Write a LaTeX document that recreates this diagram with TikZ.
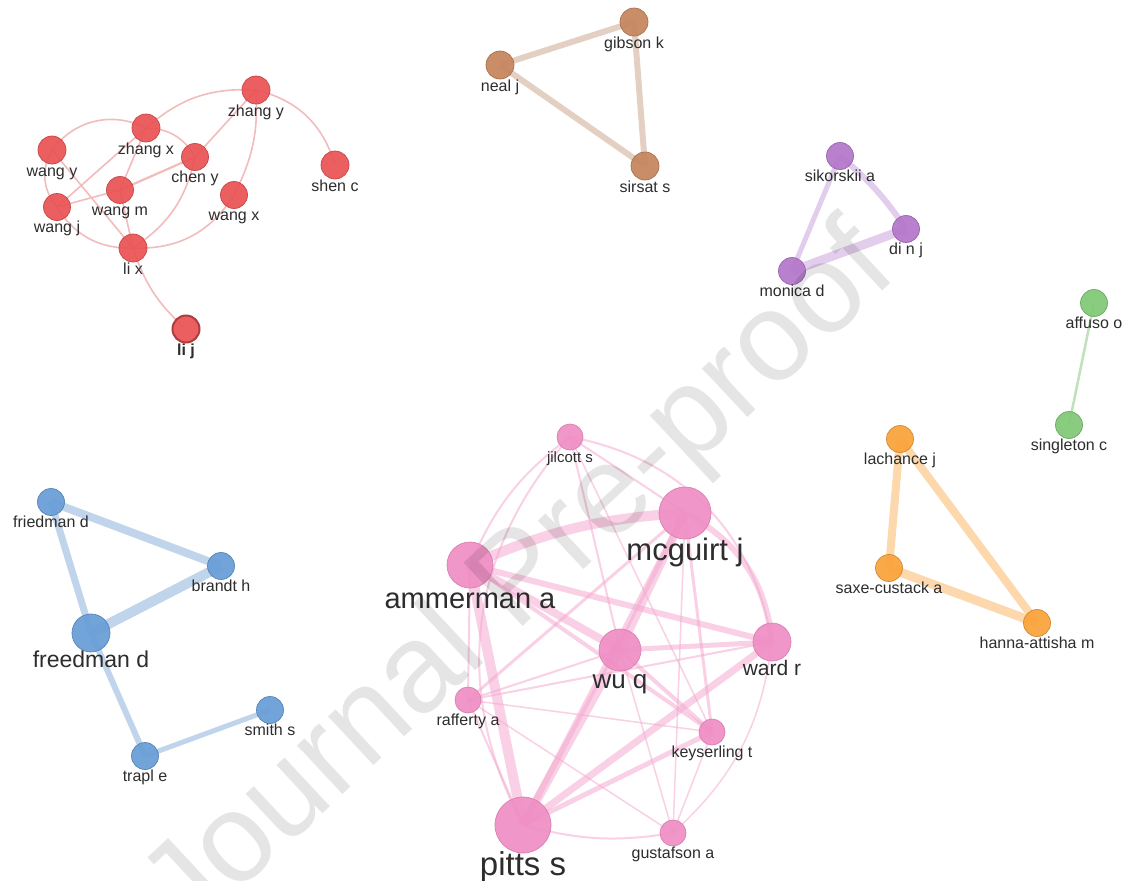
\documentclass[tikz,border=0pt]{standalone}
\usepackage{fontspec}
\setmainfont{Liberation Sans}
\pgfdeclarelayer{bg}
\pgfdeclarelayer{top}
\pgfsetlayers{bg,main,top}
\definecolor{rednode}{RGB}{234,82,84}
\definecolor{rededge}{RGB}{242,188,188}
\definecolor{bluenode}{RGB}{102,157,215}
\definecolor{blueedge}{RGB}{192,213,235}
\definecolor{brownnode}{RGB}{197,133,92}
\definecolor{brownedge}{RGB}{228,208,194}
\definecolor{purplenode}{RGB}{180,118,202}
\definecolor{purpleedge}{RGB}{226,206,236}
\definecolor{greennode}{RGB}{128,200,118}
\definecolor{greenedge}{RGB}{192,226,186}
\definecolor{orangenode}{RGB}{250,162,58}
\definecolor{orangeedge}{RGB}{253,216,172}
\definecolor{pinknode}{RGB}{240,142,196}
\definecolor{pinkedge}{RGB}{245,170,208}
\definecolor{labtext}{RGB}{45,45,45}
\tikzset{
  v/.style={circle,inner sep=0pt,minimum size=#1,line width=0.7pt,fill opacity=0.92},
  rn/.style={fill=rednode,draw=rednode!85!black},
  bn/.style={fill=bluenode,draw=bluenode!85!black},
  brn/.style={fill=brownnode,draw=brownnode!85!black},
  pn/.style={fill=purplenode,draw=purplenode!85!black},
  gn/.style={fill=greennode,draw=greennode!85!black},
  on/.style={fill=orangenode,draw=orangenode!85!black},
  kn/.style={fill=pinknode,draw=pinknode!90!black},
  sl/.style={font=\fontsize{16}{16}\selectfont,text=labtext,inner sep=0pt,text height=11.5pt,text depth=3.4pt},
  bl/.style={font=\fontsize{#1}{#1}\selectfont,text=labtext,inner sep=0pt},
  re/.style={draw=rededge,line width=1.6pt},
  be/.style={draw=blueedge,line width=#1},
  bre/.style={draw=brownedge,line width=#1},
  pe/.style={draw=purpleedge,line width=#1},
  ge/.style={draw=greenedge,line width=#1},
  oe/.style={draw=orangeedge,line width=#1},
  ke/.style={draw=pinkedge,line width=#1,draw opacity=0.55},
}
\begin{document}
\begin{tikzpicture}[x=1pt,y=-1pt]
\useasboundingbox (0,0) rectangle (1128,881);

% ---------------- red cluster
\node[v=28,rn,label={[sl]below:zhang y}] (zy) at (256,90) {};
\node[v=28,rn,label={[sl]below:zhang x}] (zx) at (146,128) {};
\node[v=28,rn,label={[sl]below:wang y}] (wy) at (52,150) {};
\node[v=27,rn,label={[sl]below:chen y}] (cy) at (195,157) {};
\node[v=28,rn,label={[sl]below:shen c}] (sc) at (335,165) {};
\node[v=27,rn,label={[sl]below:wang m}] (wm) at (120,190) {};
\node[v=27,rn,label={[sl]below:wang x}] (wx) at (234,195) {};
\node[v=27,rn,label={[sl]below:wang j}] (wj) at (57,207) {};
\node[v=28,rn,label={[sl]below:li x}] (lx) at (133,248) {};
\node[v=27,rn,line width=2pt,draw=rednode!75!black,label={[sl,font=\fontsize{16}{16}\selectfont\bfseries]below:li j}] (lj) at (186,329) {};

% ---------------- brown cluster
\node[v=28,brn,label={[sl]below:gibson k}] (gk) at (634,22) {};
\node[v=28,brn,label={[sl]below:neal j}] (nj) at (500,65) {};
\node[v=28,brn,label={[sl]below:sirsat s}] (ss) at (645,166) {};

% ---------------- purple cluster
\node[v=27,pn,label={[sl]below:sikorskii a}] (sk) at (840,156) {};
\node[v=27,pn,label={[sl]below:di n j}] (dj) at (906,229) {};
\node[v=27,pn,label={[sl]below:monica d}] (md) at (792,271) {};

% ---------------- green cluster
\node[v=27,gn,label={[sl]below:affuso o}] (ao) at (1094,303) {};
\node[v=27,gn,label={[sl]below:singleton c}] (sg) at (1069,425) {};

% ---------------- orange cluster
\node[v=27,on,label={[sl]below:lachance j}] (lc) at (900,439) {};
\node[v=27,on,label={[sl]below:saxe-custack a}] (sx) at (889,568) {};
\node[v=27,on,label={[sl]below:hanna-attisha m}] (ha) at (1037,623) {};

% ---------------- blue cluster
\node[v=27,bn,label={[sl]below:friedman d}] (fd) at (51,502) {};
\node[v=27,bn,label={[sl]below:brandt h}] (bh) at (221,566) {};
\node[v=38,bn,label={[bl=23,text height=15pt,text depth=4pt]below:freedman d}] (fr) at (91,633) {};
\node[v=27,bn,label={[sl]below:smith s}] (sm) at (270,710) {};
\node[v=27,bn,label={[sl]below:trapl e}] (te) at (145,756) {};

% ---------------- pink cluster
\node[v=26,kn,label={[sl,font=\fontsize{15}{15}\selectfont]below:jilcott s}] (js) at (570,437) {};
\node[v=52,kn,label={[bl=31,text height=21pt,text depth=6pt]below:mcguirt j}] (mj) at (685,513) {};
\node[v=46,kn,label={[bl=29,text height=20pt,text depth=6pt]below:ammerman a}] (aa) at (470,565) {};
\node[v=42,kn,label={[bl=26,text height=17pt,text depth=5pt]below:wu q}] (wq) at (620,650) {};
\node[v=38,kn,label={[bl=21,text height=14pt,text depth=4pt]below:ward r}] (wr) at (772,642) {};
\node[v=26,kn,label={[sl]below:rafferty a}] (ra) at (468,700) {};
\node[v=26,kn,label={[sl]below:keyserling t}] (kt) at (712,732) {};
\node[v=56,kn,label={[bl=33,text height=22pt,text depth=7pt]below:pitts s}] (ps) at (523,825) {};
\node[v=26,kn,label={[sl]below:gustafson a}] (ga) at (673,833) {};

\begin{pgfonlayer}{bg}
\fill[white] (0,0) rectangle (1128,881);
% red edges
\draw[re] (zy.center) to[bend right=22] (zx.center);
\draw[re] (zy.center) to[bend left=30] (sc.center);
\draw[re] (zy.center) -- (cy.center);
\draw[re] (zy.center) to[bend left=15] (wx.center);
\draw[re] (zx.center) to[bend right=40] (wy.center);
\draw[re] (wy.center) to[bend right=35] (wj.center);
\draw[re] (wy.center) -- (lx.center);
\draw[re] (zx.center) -- (wj.center);
\draw[re] (zx.center) -- (wm.center);
\draw[re] (zx.center) to[bend left=30] (cy.center);
\draw[re,line width=2.2pt] (cy.center) -- (wm.center);
\draw[re] (cy.center) to[bend left=22] (lx.center);
\draw[re] (wm.center) -- (lx.center);
\draw[re] (wj.center) -- (wm.center);
\draw[re] (wj.center) to[bend right=30] (lx.center);
\draw[re] (wx.center) to[bend left=30] (lx.center);
\draw[re] (lx.center) to[bend right=15] (lj.center);
% brown edges
\draw[bre=6pt] (nj.center) -- (gk.center);
\draw[bre=6pt] (gk.center) -- (ss.center);
\draw[bre=6pt] (nj.center) -- (ss.center);
% purple edges
\draw[pe=6pt] (sk.center) to[bend left=8] (dj.center);
\draw[pe=5pt] (sk.center) -- (md.center);
\draw[pe=9pt] (md.center) -- (dj.center);
% green edge
\draw[ge=2.5pt] (ao.center) -- (sg.center);
% orange edges
\draw[oe=8pt] (lc.center) -- (sx.center);
\draw[oe=8pt] (lc.center) -- (ha.center);
\draw[oe=9pt] (sx.center) -- (ha.center);
% blue edges
\draw[be=8pt] (fd.center) -- (bh.center);
\draw[be=7pt] (fd.center) -- (fr.center);
\draw[be=10pt] (bh.center) -- (fr.center);
\draw[be=6pt] (fr.center) -- (te.center);
\draw[be=5pt] (te.center) -- (sm.center);
% pink edges
\draw[ke=10pt] (aa.center) to[bend left=10] (mj.center);
\draw[ke=10pt] (aa.center) -- (ps.center);
\draw[ke=8pt] (mj.center) -- (wq.center);
\draw[ke=6pt] (mj.center) -- (ps.center);
\draw[ke=9pt] (wq.center) -- (ps.center);
\draw[ke=8pt] (aa.center) -- (wq.center);
\draw[ke=6pt] (aa.center) -- (wr.center);
\draw[ke=4pt] (aa.center) -- (kt.center);
\draw[ke=6pt] (mj.center) to[bend left=28] (wr.center);
\draw[ke=5pt] (wq.center) -- (wr.center);
\draw[ke=7pt] (ps.center) -- (wr.center);
\draw[ke=5pt] (ps.center) -- (kt.center);
\draw[ke=3pt] (mj.center) -- (kt.center);
\draw[ke=4pt] (wq.center) -- (kt.center);
\draw[ke=2pt] (js.center) -- (mj.center);
\draw[ke=2pt] (js.center) -- (wq.center);
\draw[ke=1.5pt] (js.center) -- (kt.center);
\draw[ke=2pt] (js.center) to[bend right=15] (aa.center);
\draw[ke=2pt] (js.center) to[bend left=35] (wr.center);
\draw[ke=2pt] (js.center) to[bend right=35] (ps.center);
\draw[ke=3pt] (ra.center) -- (mj.center);
\draw[ke=2pt] (ra.center) -- (wr.center);
\draw[ke=1.5pt] (ra.center) -- (kt.center);
\draw[ke=2pt] (ra.center) -- (ps.center);
\draw[ke=1.5pt] (ra.center) -- (ga.center);
\draw[ke=2pt] (ra.center) -- (wq.center);
\draw[ke=2pt] (ra.center) -- (aa.center);
\draw[ke=2pt] (ps.center) to[bend right=12] (ga.center);
\draw[ke=1.5pt] (ga.center) -- (mj.center);
\draw[ke=1.5pt] (ga.center) to[bend right=20] (wr.center);
\draw[ke=1.5pt] (ga.center) -- (kt.center);
\draw[ke=1.5pt] (ga.center) -- (wq.center);
\end{pgfonlayer}

% watermark
\begin{pgfonlayer}{top}
\node[rotate=43,text=black,text opacity=0.1,inner sep=0pt,font=\fontsize{126}{126}\selectfont] (wmk) at (522,583) {Journal Pre-proof};
\end{pgfonlayer}
\end{tikzpicture}
\end{document}
